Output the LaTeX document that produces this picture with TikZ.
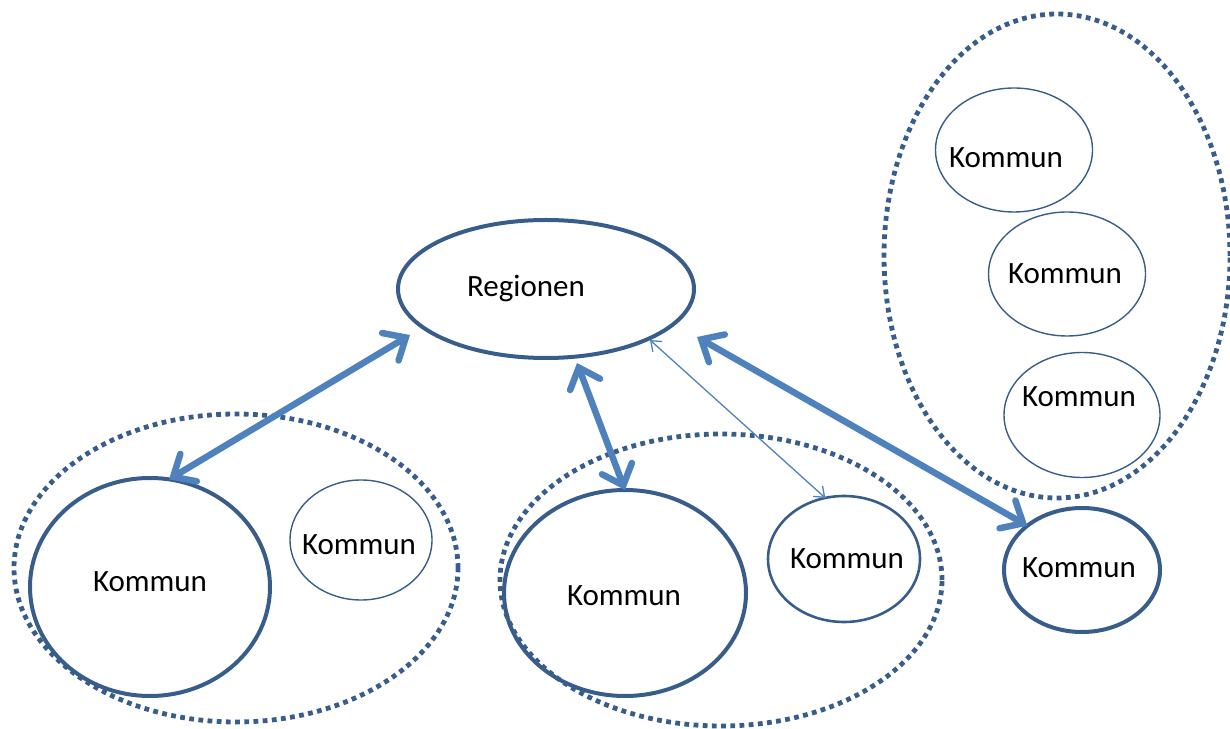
\documentclass[tikz,border=0pt]{standalone}
\usepackage{fontspec}
\setmainfont{Carlito}
\usetikzlibrary{shapes.geometric,arrows.meta,calc}
\definecolor{outl}{HTML}{385D8A}
\definecolor{arr}{HTML}{4F81BD}
\begin{document}
\begin{tikzpicture}[x=1pt,y=1pt,
  ell/.style={ellipse,draw=outl,inner sep=0pt,outer sep=0pt},
  thick ell/.style={ell,line width=4pt},
  thin ell/.style={ell,line width=1.4pt},
  mid ell/.style={ell,line width=2.6pt},
  grp/.style={ell,line width=4.8pt,dash pattern=on 4.8pt off 4.4pt,draw=outl},
  lbl/.style={anchor=base,font=\fontsize{31}{36}\selectfont,inner sep=0pt},
  bigarr/.style={draw=arr,line width=6.5pt,line cap=round,
     {Straight Barb[length=18pt,width=32pt,line cap=round]}-{Straight Barb[length=18pt,width=32pt,line cap=round]}},
  thinarr/.style={draw=arr,line width=1.3pt,
     {Straight Barb[length=9pt,width=14pt]}-{Straight Barb[length=9pt,width=14pt]}}
]
\useasboundingbox (0,0) rectangle (1230,728);
% groups
\node[grp,minimum width=444pt,minimum height=308pt] (g1) at (236,160) {};
\node[grp,minimum width=442pt,minimum height=292pt] (g2) at (721,148) {};
\node[grp,minimum width=346pt,minimum height=484pt] (g3) at (1057,472) {};
% main ellipses
\node[thick ell,minimum width=296pt,minimum height=138pt] (reg) at (546,439) {};
\node[thick ell,minimum width=240pt,minimum height=218pt] (k1) at (150,141) {};
\node[thin ell,minimum width=142pt,minimum height=120pt] (k1s) at (361,188) {};
\node[thick ell,minimum width=242pt,minimum height=206pt] (k2) at (625,135) {};
\node[mid ell,minimum width=152pt,minimum height=126pt] (k2s) at (844,169) {};
\node[thin ell,minimum width=157pt,minimum height=124pt] (k3a) at (1014,578) {};
\node[thin ell,minimum width=157pt,minimum height=124pt] (k3b) at (1067,454) {};
\node[thin ell,minimum width=156pt,minimum height=125pt] (k3c) at (1082,313) {};
\node[thick ell,minimum width=156pt,minimum height=124pt] (k4) at (1082,158) {};
% labels
\node[lbl] (t0) at (526,431) {Regionen};
\node[lbl] (t1) at (150,137) {Kommun};
\node[lbl] (t2) at (359,173) {Kommun};
\node[lbl] (t3) at (624,123) {Kommun};
\node[lbl] (t4) at (847,159) {Kommun};
\node[lbl] (t5) at (1006,560) {Kommun};
\node[lbl] (t6) at (1065,444) {Kommun};
\node[lbl] (t7) at (1079,321) {Kommun};
\node[lbl] (t8) at (1079,150) {Kommun};
% connector end points near Regionen
\coordinate (r1) at ($(reg.center)+(-136,-46)$);
\coordinate (r2) at ($(reg.center)+(31,-74)$);
\coordinate (r3) at ($(reg.center)+(104,-51)$);
\coordinate (r4) at ($(reg.center)+(151,-48)$);
% connectors
\draw[bigarr] (r1) -- (k1.80.7);
\draw[bigarr] (r2) -- (k2.90);
\draw[thinarr] (r3) -- (k2s.107.4);
\draw[bigarr] (r4) -- (k4.141);
\end{tikzpicture}
\end{document}
